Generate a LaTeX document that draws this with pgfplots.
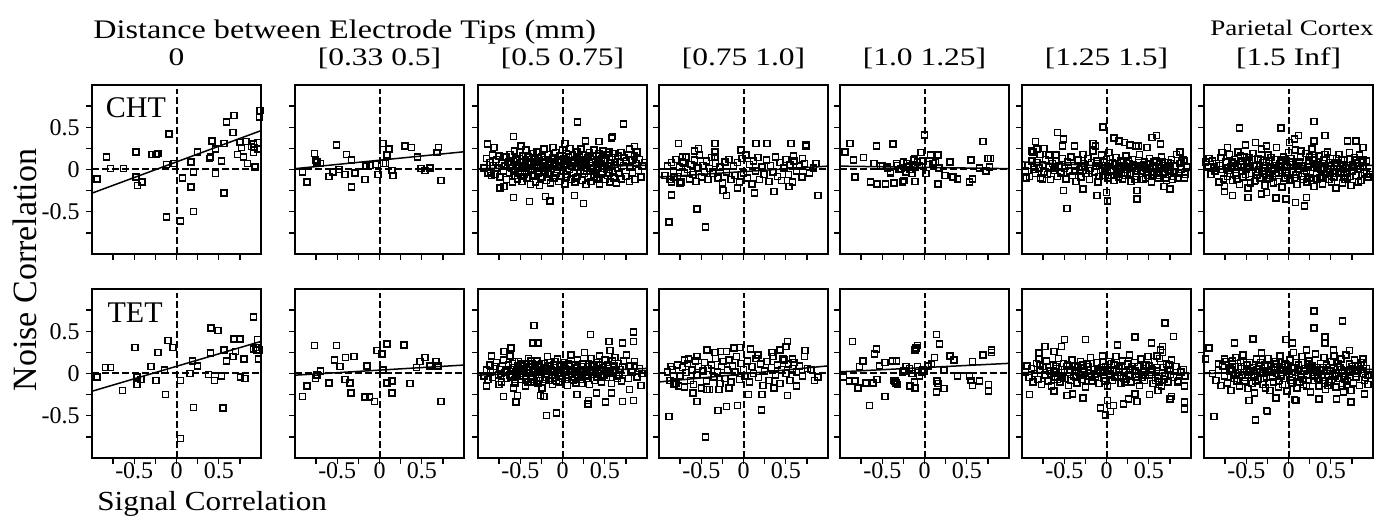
\documentclass[border=0pt]{standalone}
\usepackage{fontspec}
\setmainfont{Liberation Serif}
\usepackage{graphicx}
\usepackage{pgfplots}
\pgfplotsset{compat=1.18}

\pgfplotsset{
  panel/.style={
    scale only axis, width=84.5pt, height=84.5pt,
    xmin=-1, xmax=1, ymin=-1, ymax=1,
    axis line style={line width=0.85pt},
    xtick={-0.75,-0.5,-0.25,0,0.25,0.5,0.75},
    ytick={-0.75,-0.5,-0.25,0,0.25,0.5,0.75},
    xticklabels={}, yticklabels={},
    tick align=outside, tick pos=left,
    major tick length=3pt,
    every tick/.style={black, line width=0.7pt},
    tick label style={font=\fontsize{12}{14}\selectfont},
    xticklabel style={anchor=base, yshift=-7.5pt},
    yticklabel style={anchor=east, inner sep=0pt, xshift=-3pt},
    every axis title/.style={at={(0.5,1)}, anchor=base, yshift=9.5pt,
      font=\fontsize{12.6}{15}\selectfont},
    anchor=north west,
  },
  xlab/.style={xticklabels={,-0.5,,0,,0.5,}},
  ylab/.style={yticklabels={,-0.5,,0,,0.5,}},
  sc/.style={only marks, mark=square, mark size=1.5pt,
    mark options={black, line width=0.75pt}},
  reg/.style={black, line width=0.75pt, no marks},
  zl/.style={black, line width=1pt, dash pattern=on 3.3pt off 1.7pt, no marks},
}
\newcommand{\zerolines}{%
  \addplot[zl] coordinates {(-1,0) (1,0)};
  \addplot[zl] coordinates {(0,-1) (0,0.95)};}
\newcommand{\wide}[1]{\scalebox{1.25}[1]{#1}}

\begin{document}
\begin{tikzpicture}
\path[use as bounding box] (0pt,0pt) rectangle (688.5pt,-259pt);

\node[anchor=base west, inner sep=0pt, font=\fontsize{13.4}{16}\selectfont]
  at (46.5pt,-19.25pt) {\scalebox{1.2}[1]{Distance between Electrode Tips (mm)}};
\node[anchor=base east, inner sep=0pt, font=\fontsize{11.1}{13}\selectfont]
  at (687pt,-17.9pt) {\scalebox{1.22}[1]{Parietal Cortex}};
\node[anchor=base, inner sep=0pt, rotate=90, font=\fontsize{17}{20}\selectfont]
  at (18pt,-135pt) {Noise Correlation};
\node[anchor=base west, inner sep=0pt, font=\fontsize{13.8}{16}\selectfont]
  at (48.5pt,-255pt) {\scalebox{1.13}[1]{Signal Correlation}};

% ---------------- row 1 : CHT ----------------
\begin{axis}[panel, ylab, at={(46pt,-42.5pt)}, title={\wide{0}}]
\zerolines
\addplot[sc] coordinates {
(-0.94,-0.11) (-0.83,0.15) (-0.78,0.01) (-0.63,0.01) (-0.48,0.21) (-0.48,-0.09)
(-0.46,-0.19) (-0.41,-0.15) (-0.29,0.18) (-0.22,0.19) (-0.24,0.18) (-0.12,0.06)
(-0.09,0.42) (-0.12,-0.56) (-0.03,0.07) (0.05,-0.61) (0.07,-0.10) (0.17,0.09)
(0.17,-0.21) (0.20,-0.03) (0.20,-0.50) (0.25,0.21) (0.42,0.34) (0.40,0.15)
(0.39,0.13) (0.46,0.24) (0.46,-0.05) (0.53,0.10) (0.56,0.31) (0.56,-0.28)
(0.59,0.56) (0.68,0.64) (0.67,0.44) (0.72,0.18) (0.75,0.32) (0.77,0.26)
(0.79,0.15) (0.82,0.33) (0.84,0.07) (0.89,0.27) (0.91,0.20) (0.91,0.30)
(0.93,0.03) (0.96,0.32) (0.98,0.62) (0.99,0.70) (0.96,0.24) (0.92,0.26)};
\addplot[reg] coordinates {(-1,-0.28) (1,0.46)};
\node[anchor=base west, inner sep=0pt, font=\fontsize{15}{18}\selectfont]
  at (axis cs:-0.84,0.61) {CHT};
\end{axis}

\begin{axis}[panel, at={(147.5pt,-42.5pt)}, title={\wide{[0.33 0.5]}}]
\zerolines
\addplot[sc] coordinates {
(-0.91,-0.03) (-0.86,-0.15) (-0.77,0.19) (-0.76,0.11) (-0.74,0.09) (-0.70,0.07)
(-0.60,-0.08) (-0.55,-0.03) (-0.51,0.29) (-0.48,0.00) (-0.41,-0.06) (-0.39,0.18)
(-0.33,0.11) (-0.33,-0.21) (-0.29,-0.04) (-0.17,-0.12) (-0.16,0.04) (-0.11,0.05)
(-0.05,0.06) (-0.02,-0.06) (0.04,0.31) (0.05,0.07) (0.07,0.07) (0.09,0.17)
(0.11,0.24) (0.15,-0.01) (0.16,-0.07) (0.30,0.28) (0.38,0.26) (0.45,0.15)
(0.49,0.01) (0.54,-0.01) (0.60,0.02) (0.68,0.20) (0.70,0.26) (0.73,-0.13)};
\addplot[reg] coordinates {(-1,0.01) (1,0.21)};
\end{axis}

\begin{axis}[panel, at={(239pt,-42.5pt)}, title={\wide{[0.5 0.75]}}]
\zerolines
\addplot[sc] coordinates {
(0.18,0.56) (0.72,0.54) (-0.58,0.39) (-0.89,0.30) (-0.81,0.26) (-0.49,0.28)
(0.59,0.39) (0.58,0.37) (0.27,0.34) (0.43,0.33) (0.03,0.31) (0.85,0.27)
(0.79,0.24) (-0.58,-0.33) (-0.39,-0.38) (-0.20,-0.32) (-0.15,-0.37) (0.14,-0.31)
(0.25,-0.40) (-0.74,-0.22) (-0.69,-0.20) (-0.85,-0.05) (-0.84,-0.07)
(-0.93,0.02) (-0.9,0.13) (-0.88,-0.04) (-0.86,0.08) (-0.85,-0.03) (-0.83,0.17)
(-0.82,0.05) (-0.8,-0.06) (-0.78,0.12) (-0.77,0.02) (-0.75,0.16) (-0.74,-0.09)
(-0.72,0.07) (-0.7,0.14) (-0.7,-0.02) (-0.68,0.04) (-0.67,0.15) (-0.66,-0.12)
(-0.64,0.09) (-0.63,-0.04) (-0.62,0.18) (-0.6,0.01) (-0.59,-0.15) (-0.58,0.1)
(-0.57,0.22) (-0.56,-0.07) (-0.55,0.05) (-0.54,0.13) (-0.53,-0.11) (-0.52,0.02)
(-0.51,0.2) (-0.5,-0.03) (-0.49,0.08) (-0.48,-0.14) (-0.47,0.16) (-0.46,0.03)
(-0.45,-0.06) (-0.44,0.11) (-0.43,0.23) (-0.42,-0.1) (-0.41,0.06) (-0.4,-0.02)
(-0.39,0.14) (-0.38,-0.18) (-0.37,0.09) (-0.36,0.01) (-0.35,0.19) (-0.34,-0.08)
(-0.33,0.12) (-0.32,-0.15) (-0.31,0.04) (-0.3,0.21) (-0.29,-0.05) (-0.28,0.1)
(-0.27,-0.19) (-0.26,0.02) (-0.25,0.15) (-0.24,-0.09) (-0.23,0.07) (-0.22,0.24)
(-0.21,-0.02) (-0.2,0.12) (-0.19,-0.13) (-0.18,0.05) (-0.17,0.18) (-0.16,-0.06)
(-0.15,0.09) (-0.14,-0.16) (-0.13,0.01) (-0.12,0.14) (-0.11,0.26) (-0.1,-0.1)
(-0.09,0.06) (-0.08,0.2) (-0.07,-0.04) (-0.06,0.11) (-0.05,-0.14) (-0.04,0.03)
(-0.03,0.16) (-0.02,-0.08) (-0.01,0.08) (0.0,0.23) (0.01,-0.02) (0.02,0.13)
(0.03,-0.17) (0.04,0.05) (0.05,0.19) (0.06,-0.06) (0.07,0.1) (0.08,0.0)
(0.09,0.25) (0.1,-0.12) (0.11,0.07) (0.12,0.17) (0.13,-0.04) (0.14,0.12)
(0.15,-0.15) (0.16,0.03) (0.17,0.21) (0.18,-0.08) (0.19,0.09) (0.2,0.15)
(0.21,-0.01) (0.22,0.24) (0.23,-0.13) (0.24,0.06) (0.25,0.18) (0.26,-0.05)
(0.27,0.11) (0.28,-0.18) (0.29,0.02) (0.3,0.14) (0.31,-0.09) (0.32,0.2)
(0.33,0.05) (0.34,-0.14) (0.35,0.12) (0.36,0.0) (0.37,0.23) (0.38,-0.06)
(0.39,0.09) (0.4,0.16) (0.41,-0.11) (0.42,0.03) (0.43,0.19) (0.44,-0.17)
(0.45,0.07) (0.46,0.13) (0.47,-0.03) (0.48,0.22) (0.49,0.01) (0.5,-0.12)
(0.51,0.1) (0.52,0.17) (0.53,-0.07) (0.54,0.04) (0.55,0.21) (0.56,-0.15)
(0.57,0.08) (0.58,0.14) (0.59,-0.02) (0.6,0.19) (0.61,-0.1) (0.62,0.06)
(0.63,0.12) (0.64,-0.16) (0.65,0.02) (0.66,0.16) (0.67,-0.05) (0.68,0.09)
(0.69,0.2) (0.7,-0.11) (0.72,0.05) (0.73,0.14) (0.75,-0.08) (0.76,0.1)
(0.78,0.18) (0.79,-0.14) (0.8,0.03) (0.82,0.11) (0.83,-0.04) (0.85,0.16)
(0.86,-0.12) (0.87,0.07) (0.88,0.21) (0.9,-0.01) (0.91,0.12) (0.93,-0.09)
(0.95,0.04) (0.97,0.08)
(-0.62,0.06) (-0.58,-0.02) (-0.55,0.11) (-0.51,0.04) (-0.47,-0.08) (-0.44,0.07)
(-0.41,0.15) (-0.38,0.0) (-0.35,-0.06) (-0.32,0.08) (-0.29,0.13) (-0.26,-0.1)
(-0.23,0.03) (-0.2,0.09) (-0.17,-0.04) (-0.14,0.07) (-0.11,0.12) (-0.08,-0.07)
(-0.05,0.05) (-0.02,0.1) (0.01,0.03) (0.04,-0.09) (0.07,0.15) (0.1,0.05)
(0.13,0.08) (0.16,-0.1) (0.19,0.03) (0.22,0.11) (0.25,-0.02) (0.28,0.06)
(0.31,0.16) (0.34,0.02) (0.37,-0.09) (0.4,0.06) (0.43,0.1) (0.46,-0.06)
(0.49,0.12) (0.52,0.0) (0.55,-0.04) (0.58,0.05)};
\addplot[reg] coordinates {(-1,0.01) (1,0.05)};
\end{axis}

\begin{axis}[panel, at={(329.5pt,-42.5pt)}, title={\wide{[0.75 1.0]}}]
\zerolines
\addplot[sc] coordinates {
(-0.77,0.31) (-0.58,0.22) (-0.53,0.25) (-0.34,0.31) (-0.34,0.21) (-0.34,0.15)
(-0.03,0.23) (0.15,0.31) (0.28,0.31) (0.56,0.31) (0.74,0.29) (0.74,0.28)
(0.59,0.16) (0.70,0.13) (0.86,0.07) (-0.85,-0.30) (-0.88,-0.62) (-0.55,-0.47)
(-0.45,-0.68) (-0.24,-0.25) (-0.20,-0.31) (-0.07,-0.22) (0.13,-0.28) (0.36,-0.26)
(0.54,-0.20) (0.88,-0.31) (-0.82,-0.09) (-0.75,-0.16) (-0.85,-0.15) (-0.72,0.15)
(-0.71,0.07)
(-0.93,-0.07) (-0.9,0.04) (-0.87,-0.12) (-0.85,0.08) (-0.83,-0.02) (-0.8,0.12)
(-0.78,-0.08) (-0.76,0.03) (-0.74,-0.15) (-0.72,0.09) (-0.7,-0.04) (-0.68,0.15)
(-0.66,0.0) (-0.64,-0.11) (-0.62,0.06) (-0.6,-0.06) (-0.58,0.11) (-0.56,-0.14)
(-0.54,0.02) (-0.52,0.17) (-0.5,-0.09) (-0.48,0.05) (-0.46,-0.03) (-0.44,0.1)
(-0.42,-0.12) (-0.4,0.01) (-0.38,0.14) (-0.36,-0.05) (-0.33,0.07) (-0.3,-0.1)
(-0.28,0.03) (-0.25,-0.16) (-0.22,0.09) (-0.2,-0.03) (-0.17,0.12) (-0.15,-0.12)
(-0.12,0.04) (-0.1,-0.07) (-0.07,0.08) (-0.05,-0.15) (-0.02,0.13) (0.0,-0.04)
(0.03,0.17) (0.05,-0.1) (0.07,0.06) (0.1,-0.17) (0.12,0.1) (0.14,-0.02)
(0.17,0.14) (0.19,-0.12) (0.22,0.03) (0.24,-0.06) (0.27,0.11) (0.3,-0.14)
(0.32,0.05) (0.35,-0.03) (0.38,0.15) (0.4,-0.08) (0.43,0.08) (0.45,-0.13)
(0.48,0.02) (0.5,0.12) (0.53,-0.06) (0.55,0.06) (0.58,-0.15) (0.6,0.1)
(0.63,-0.02) (0.66,0.04) (0.69,-0.09) (0.72,0.07) (0.78,-0.04) (0.83,0.02)};
\addplot[reg] coordinates {(-1,-0.09) (1,0.04)};
\end{axis}

\begin{axis}[panel, at={(420pt,-42.5pt)}, title={\wide{[1.0 1.25]}}]
\zerolines
\addplot[sc] coordinates {
(-0.94,0.21) (-0.88,0.31) (-0.84,0.11) (-0.82,-0.09) (-0.72,0.14) (-0.64,-0.15)
(-0.57,0.28) (-0.56,-0.17) (-0.46,-0.17) (-0.37,0.30) (-0.36,-0.16) (-0.26,-0.15)
(-0.22,-0.03) (-0.6,0.07) (-0.52,0.04) (-0.44,0.03) (-0.40,-0.05) (-0.32,0.05)
(-0.28,0.01) (-0.21,0.07) (-0.17,0.0) (-0.13,0.11) (-0.11,0.03)
(-0.25,0.09) (-0.2,0.03) (-0.24,-0.13) (-0.11,-0.14) (-0.12,0.13) (-0.08,0.09)
(-0.04,0.20) (-0.06,0.05) (0.0,0.41) (0.02,-0.05) (0.07,0.17) (0.10,0.07)
(0.16,0.17) (0.13,0.09) (0.16,-0.17) (0.17,0.02) (0.24,-0.07) (0.30,0.09)
(0.34,-0.09) (0.39,-0.11) (0.53,-0.15) (0.57,-0.11) (0.55,0.11) (0.69,0.33)
(0.65,0.02) (0.73,-0.02) (0.75,0.13) (0.78,0.13) (0.77,0.03)
(-0.5,0.05) (-0.44,0.02) (-0.4,-0.03) (-0.33,0.07) (-0.3,0.0) (-0.18,0.04)
(-0.15,-0.05) (-0.02,0.1) (0.04,0.06)};
\addplot[reg] coordinates {(-1,0.04) (1,0.01)};
\end{axis}

\begin{axis}[panel, at={(511pt,-42.5pt)}, title={\wide{[1.25 1.5]}}]
\zerolines
\addplot[sc] coordinates {
(-0.95,-0.10) (-0.89,0.22) (-0.84,0.33) (-0.87,0.21) (-0.82,0.24) (-0.79,0.18)
(-0.74,0.25) (-0.76,-0.11) (-0.68,0.17) (-0.60,0.17) (-0.58,0.44) (-0.51,0.36)
(-0.52,0.28) (-0.38,0.28) (-0.51,-0.25) (-0.47,-0.46) (-0.28,-0.23) (-0.16,0.31)
(-0.13,0.28) (-0.04,0.50) (-0.11,-0.31) (0.0,-0.27) (0.01,-0.37) (0.09,0.37)
(0.15,0.34) (0.21,0.32) (0.28,0.29) (0.35,0.28) (0.38,0.28) (0.48,0.26)
(0.54,0.38) (0.59,0.40) (0.64,0.30) (0.36,-0.25) (0.36,-0.35) (0.68,-0.20)
(0.75,-0.23) (0.84,-0.10) (0.92,-0.10) (0.87,0.21) (0.92,0.10) (0.89,0.09)
(-0.96,-0.02) (-0.93,0.05) (-0.91,-0.08) (-0.88,0.1) (-0.86,0.0) (-0.84,-0.05)
(-0.82,0.08) (-0.8,0.02) (-0.78,-0.1) (-0.76,0.06) (-0.74,-0.03) (-0.72,0.12)
(-0.7,-0.06) (-0.68,0.03) (-0.66,-0.12) (-0.64,0.07) (-0.62,-0.01) (-0.6,0.1)
(-0.58,-0.08) (-0.56,0.04) (-0.54,-0.04) (-0.52,0.13) (-0.5,0.01) (-0.48,-0.11)
(-0.46,0.09) (-0.44,-0.02) (-0.42,0.15) (-0.4,-0.07) (-0.38,0.05) (-0.36,-0.14)
(-0.34,0.11) (-0.32,0.0) (-0.3,-0.09) (-0.28,0.18) (-0.26,0.04) (-0.24,-0.05)
(-0.22,0.13) (-0.2,-0.12) (-0.18,0.08) (-0.16,0.22) (-0.14,-0.03) (-0.12,0.1)
(-0.1,-0.15) (-0.08,0.05) (-0.06,0.17) (-0.04,-0.07) (-0.02,0.02) (0.0,0.12)
(0.02,-0.1) (0.03,0.2) (0.05,-0.02) (0.07,0.08) (0.09,-0.13) (0.11,0.14)
(0.13,0.0) (0.15,-0.06) (0.17,0.1) (0.19,-0.11) (0.21,0.04) (0.23,0.16)
(0.25,-0.04) (0.27,0.07) (0.29,-0.14) (0.31,0.12) (0.33,0.01) (0.35,-0.08)
(0.37,0.05) (0.39,0.18) (0.41,-0.02) (0.43,-0.12) (0.45,0.09) (0.47,0.02)
(0.49,-0.07) (0.51,0.13) (0.53,-0.15) (0.55,0.04) (0.57,-0.03) (0.59,0.1)
(0.61,-0.1) (0.63,0.06) (0.65,0.15) (0.67,-0.05) (0.69,0.01) (0.71,-0.13)
(0.73,0.08) (0.75,-0.02) (0.77,0.12) (0.79,-0.08) (0.81,0.04) (0.83,0.18)
(0.85,-0.04) (0.87,0.07) (0.89,0.0) (0.91,0.11) (0.93,-0.06) (0.95,0.03)
(-0.27,0.07) (-0.21,-0.01) (-0.13,0.04) (-0.09,-0.08) (-0.03,0.09) (0.01,0.03)
(0.06,-0.07) (0.1,0.06) (0.14,-0.09) (0.18,0.02) (0.22,-0.07) (0.26,0.1)
(0.3,0.03) (0.34,-0.12) (0.38,0.08) (0.42,0.05) (0.46,-0.1) (0.5,0.07)
(0.54,-0.06) (0.58,0.02) (0.62,-0.07) (0.66,0.09) (0.7,-0.1) (0.74,0.03)
(0.78,-0.12)
(-0.61,0.02) (-0.53,-0.03) (-0.45,0.05) (-0.37,-0.02) (-0.29,0.03) (-0.19,0.01)
(-0.11,0.07) (-0.05,-0.02) (0.04,0.07) (0.08,0.0) (0.12,-0.04) (0.16,0.05)
(0.2,0.09) (0.24,0.0) (0.28,-0.06) (0.32,0.06) (0.36,-0.02) (0.4,0.03)
(0.44,0.06) (0.48,-0.03) (0.52,0.02) (0.56,0.09) (0.6,-0.04) (0.64,0.01)
(0.68,0.05) (0.72,0.0) (0.76,0.07) (0.8,-0.03)};
\addplot[reg] coordinates {(-1,0.09) (1,-0.01)};
\end{axis}

\begin{axis}[panel, at={(602pt,-42.5pt)}, title={\wide{[1.5 Inf]}}]
\zerolines
\addplot[sc] coordinates {
(-0.98,0.09) (-0.94,0.13) (-0.88,0.02) (-0.79,0.20) (-0.72,0.26) (-0.58,0.49)
(-0.51,0.29) (-0.39,0.32) (-0.26,0.28) (-0.09,0.49) (0.01,0.32) (0.07,0.36)
(0.12,0.40) (0.30,0.57) (0.30,0.34) (0.43,0.40) (0.70,0.34) (0.80,0.34)
(0.88,0.26) (0.88,0.11) (-0.76,-0.26) (-0.66,-0.31) (-0.48,-0.33) (-0.32,-0.29)
(-0.26,-0.27) (-0.15,-0.34) (-0.03,-0.35) (0.08,-0.39) (0.19,-0.43) (0.21,-0.33)
(0.92,-0.05) (0.96,-0.06)
(-0.95,0.03) (-0.92,-0.06) (-0.9,0.1) (-0.87,-0.02) (-0.85,0.07) (-0.82,-0.15)
(-0.8,0.14) (-0.78,0.0) (-0.76,-0.2) (-0.74,0.09) (-0.72,-0.08) (-0.7,0.18)
(-0.68,0.03) (-0.66,-0.13) (-0.64,0.12) (-0.62,-0.04) (-0.6,0.21) (-0.58,-0.18)
(-0.56,0.06) (-0.54,-0.09) (-0.52,0.15) (-0.5,0.0) (-0.48,-0.22) (-0.46,0.1)
(-0.44,-0.05) (-0.42,0.19) (-0.4,-0.14) (-0.38,0.04) (-0.36,0.13) (-0.34,-0.1)
(-0.32,0.24) (-0.3,-0.02) (-0.28,-0.19) (-0.26,0.08) (-0.24,0.17) (-0.22,-0.07)
(-0.2,0.02) (-0.18,-0.16) (-0.16,0.12) (-0.14,0.26) (-0.12,-0.04) (-0.1,0.07)
(-0.08,-0.21) (-0.06,0.15) (-0.04,-0.1) (-0.02,0.03) (0.0,0.2) (0.02,-0.13)
(0.04,0.09) (0.06,-0.03) (0.08,0.23) (0.1,-0.18) (0.12,0.05) (0.14,0.14)
(0.16,-0.08) (0.18,0.01) (0.2,0.19) (0.22,-0.15) (0.24,0.1) (0.26,-0.05)
(0.28,0.24) (0.3,-0.2) (0.32,0.06) (0.34,-0.11) (0.36,0.16) (0.38,0.0)
(0.4,-0.17) (0.42,0.11) (0.44,-0.06) (0.46,0.21) (0.48,-0.12) (0.5,0.04)
(0.52,0.13) (0.54,-0.09) (0.56,-0.22) (0.58,0.08) (0.6,0.18) (0.62,-0.03)
(0.64,-0.16) (0.66,0.11) (0.68,0.02) (0.7,-0.1) (0.72,0.2) (0.74,-0.19)
(0.76,0.06) (0.78,0.14) (0.8,-0.07) (0.82,0.01) (0.84,0.17) (0.86,-0.13)
(0.88,0.05) (0.9,-0.04) (0.92,0.1) (0.94,-0.09)
(-0.81,0.05) (-0.77,-0.11) (-0.73,0.02) (-0.69,-0.05) (-0.65,0.07) (-0.61,-0.12)
(-0.57,0.16) (-0.53,0.03) (-0.49,0.09) (-0.45,-0.16) (-0.41,0.05) (-0.37,-0.07)
(-0.33,0.11) (-0.29,0.02) (-0.25,-0.12) (-0.21,0.14) (-0.17,0.0) (-0.13,-0.14)
(-0.09,0.1) (-0.05,0.04) (-0.01,-0.07) (0.03,0.13) (0.07,-0.1) (0.11,0.0)
(0.15,0.22) (0.19,-0.05) (0.23,0.03) (0.27,-0.13) (0.31,0.14) (0.35,0.02)
(0.39,-0.08) (0.43,0.18) (0.47,0.0) (0.51,-0.15) (0.55,0.07) (0.59,-0.05)
(0.63,0.12) (0.67,-0.12) (0.71,0.05) (0.75,-0.02) (0.79,0.11) (0.83,-0.15)
(0.87,0.09)
(-0.55,-0.02) (-0.47,0.14) (-0.39,-0.03) (-0.31,0.08) (-0.23,-0.1) (-0.15,0.05)
(-0.07,-0.01) (0.01,0.08) (0.09,0.04) (0.17,-0.12) (0.25,0.15) (0.33,-0.04)
(0.41,0.07) (0.49,-0.03) (0.57,0.04) (0.65,-0.07) (0.73,0.12)
(-0.71,-0.01) (-0.67,0.09) (-0.63,-0.07) (-0.59,0.03) (-0.55,0.1) (-0.51,-0.06)
(-0.47,0.03) (-0.43,0.12) (-0.39,-0.13) (-0.35,0.0) (-0.31,-0.05) (-0.27,0.05)
(-0.23,0.1) (-0.19,-0.09) (-0.15,-0.05) (-0.11,0.03) (-0.07,0.11) (-0.03,-0.04)
(0.01,-0.12) (0.05,0.06) (0.09,-0.06) (0.13,0.09) (0.17,0.04) (0.21,-0.02)
(0.25,-0.1) (0.29,0.11) (0.33,0.04) (0.37,-0.1) (0.41,0.02) (0.45,-0.03)
(0.49,0.08) (0.53,-0.05) (0.57,0.13) (0.61,0.01) (0.65,0.06) (0.69,-0.04)
(0.73,-0.08) (0.77,0.03) (0.81,0.08) (0.85,0.0)};
\addplot[reg] coordinates {(-1,0) (1,0.05)};
\end{axis}

% ---------------- row 2 : TET ----------------
\begin{axis}[panel, xlab, ylab, at={(46pt,-144.5pt)}]
\zerolines
\addplot[sc] coordinates {
(-0.94,-0.04) (-0.84,0.07) (-0.78,0.07) (-0.64,-0.20) (-0.49,0.31) (-0.47,-0.13)
(-0.47,-0.04) (-0.42,-0.07) (-0.30,0.08) (-0.24,-0.08) (-0.22,0.25) (-0.13,-0.25)
(-0.14,0.04) (-0.10,0.39) (-0.04,0.31) (0.05,-0.08) (0.05,-0.77) (0.16,0.00)
(0.19,0.15) (0.25,0.09) (0.20,-0.40) (0.38,-0.01) (0.40,0.24) (0.41,0.54)
(0.49,0.51) (0.45,-0.08) (0.53,-0.03) (0.55,-0.41) (0.56,0.28) (0.59,0.15)
(0.67,0.20) (0.68,0.41) (0.70,0.26) (0.75,0.41) (0.76,-0.04) (0.80,0.17)
(0.81,-0.06) (0.91,0.67) (0.91,0.29) (0.94,0.31) (0.96,0.40) (0.97,0.17)
(0.98,0.28) (0.95,0.28)};
\addplot[reg] coordinates {(-1,-0.21) (1,0.38)};
\node[anchor=base west, inner sep=0pt, font=\fontsize{15}{18}\selectfont]
  at (axis cs:-0.82,0.60) {TET};
\end{axis}

\begin{axis}[panel, xlab, at={(147.5pt,-144.5pt)}]
\zerolines
\addplot[sc] coordinates {
(-0.91,-0.27) (-0.86,-0.15) (-0.77,0.33) (-0.76,-0.06) (-0.74,-0.02) (-0.70,0.03)
(-0.60,-0.11) (-0.53,0.16) (-0.51,0.33) (-0.47,0.08) (-0.40,0.19) (-0.41,-0.07)
(-0.35,-0.11) (-0.34,-0.23) (-0.30,0.20) (-0.17,-0.28) (-0.15,0.09) (-0.12,-0.28)
(-0.06,-0.33) (-0.03,0.27) (0.03,0.23) (0.04,0.05) (0.05,0.04) (0.09,0.35)
(0.09,-0.11) (0.15,-0.09) (0.15,-0.23) (0.29,0.34) (0.36,-0.12) (0.44,0.07)
(0.48,0.14) (0.54,0.19) (0.60,0.09) (0.67,0.14) (0.69,0.09) (0.73,-0.33)};
\addplot[reg] coordinates {(-1,-0.02) (1,0.10)};
\end{axis}

\begin{axis}[panel, xlab, at={(239pt,-144.5pt)}]
\zerolines
\addplot[sc] coordinates {
(-0.34,0.57) (0.33,0.46) (0.84,0.49) (0.84,0.38) (0.71,0.36) (0.55,0.38)
(-0.35,0.36) (-0.29,0.36) (-0.61,0.30) (-0.69,0.26) (-0.84,0.21) (-0.86,0.10)
(-0.90,-0.15) (-0.75,-0.13) (-0.58,-0.17) (-0.70,-0.27) (-0.53,-0.26) (-0.55,-0.34)
(-0.19,-0.50) (-0.07,-0.47) (0.17,-0.25) (0.30,-0.36) (0.31,-0.32) (0.40,-0.23)
(0.51,-0.34) (0.58,-0.23) (0.71,-0.33) (0.84,-0.32) (0.79,-0.19) (0.93,-0.14)
(0.85,0.09) (-0.26,-0.26) (-0.22,-0.27)
(-0.93,-0.03) (-0.9,0.04) (-0.88,-0.07) (-0.85,0.02) (-0.83,-0.05) (-0.8,0.08)
(-0.78,0.13) (-0.76,-0.02) (-0.74,0.05) (-0.72,-0.1) (-0.7,0.16) (-0.68,0.01)
(-0.66,-0.06) (-0.64,0.1) (-0.62,0.21) (-0.6,-0.03) (-0.58,0.07) (-0.56,-0.12)
(-0.54,0.03) (-0.52,0.14) (-0.5,-0.07) (-0.48,0.09) (-0.46,0.0) (-0.44,-0.15)
(-0.42,0.05) (-0.4,0.18) (-0.38,-0.04) (-0.36,0.11) (-0.34,-0.1) (-0.32,0.02)
(-0.3,0.15) (-0.28,-0.06) (-0.26,0.07) (-0.24,-0.17) (-0.22,0.12) (-0.2,0.0)
(-0.18,0.2) (-0.16,-0.08) (-0.14,0.06) (-0.12,-0.13) (-0.1,0.1) (-0.08,-0.02)
(-0.06,0.17) (-0.04,-0.1) (-0.02,0.04) (0.0,-0.06) (0.02,0.13) (0.04,0.01)
(0.06,-0.14) (0.08,0.09) (0.1,0.22) (0.12,-0.04) (0.14,0.06) (0.16,-0.11)
(0.18,0.16) (0.2,0.02) (0.22,-0.07) (0.24,0.11) (0.26,0.25) (0.28,-0.02)
(0.3,0.08) (0.32,-0.13) (0.34,0.18) (0.36,0.04) (0.38,-0.08) (0.4,0.13)
(0.42,0.0) (0.44,0.21) (0.46,-0.1) (0.48,0.07) (0.5,0.16) (0.52,-0.05)
(0.54,0.1) (0.56,0.27) (0.58,-0.12) (0.6,0.03) (0.62,0.19) (0.64,-0.03)
(0.66,0.12) (0.68,0.05) (0.7,-0.09) (0.72,0.15) (0.74,0.01) (0.76,0.22)
(0.78,-0.06) (0.8,0.09) (0.82,0.02) (0.85,0.14) (0.88,-0.04) (0.91,0.06)
(0.94,0.0)
(-0.73,0.0) (-0.67,0.05) (-0.63,-0.02) (-0.59,0.12) (-0.55,0.02) (-0.51,-0.03)
(-0.47,0.06) (-0.43,-0.06) (-0.39,0.08) (-0.35,0.02) (-0.31,-0.08) (-0.27,0.1)
(-0.23,0.03) (-0.19,-0.05) (-0.15,0.13) (-0.11,0.01) (-0.07,-0.09) (-0.03,0.08)
(0.01,0.02) (0.05,-0.05) (0.09,0.04) (0.13,-0.08) (0.17,0.07) (0.21,-0.03)
(0.25,0.05) (0.29,-0.06) (0.33,0.03) (0.37,0.1) (0.41,-0.04) (0.45,0.04)
(0.49,-0.02) (0.53,0.06) (0.57,0.01) (0.61,0.09) (0.65,-0.06)
(-0.57,-0.07) (-0.49,0.11) (-0.41,-0.1) (-0.33,0.06) (-0.25,-0.01) (-0.17,0.04)
(-0.09,-0.05) (-0.01,0.1) (0.07,-0.02) (0.15,0.01) (0.23,-0.12) (0.31,0.12)
(-0.53,0.09) (-0.45,0.03) (-0.37,0.15) (-0.29,-0.12) (-0.21,0.07) (-0.13,-0.02)
(-0.65,0.03) (-0.61,-0.05) (-0.57,0.14) (-0.53,-0.02) (-0.49,0.04) (-0.45,0.12)
(-0.41,0.0) (-0.37,-0.07) (-0.33,0.1) (-0.29,0.04) (-0.25,0.12) (-0.21,-0.07)
(-0.17,0.09) (-0.13,0.05) (-0.09,0.14) (-0.05,0.0) (-0.01,-0.03) (0.03,0.06)
(0.07,0.11) (0.11,-0.07) (0.15,0.1) (0.19,-0.01) (0.23,0.08) (0.27,0.02)
(0.31,-0.03) (0.35,0.09) (0.39,0.02) (0.43,0.1) (0.47,-0.05) (0.51,0.03)
(0.55,0.0) (0.59,0.15) (0.63,0.05) (0.67,-0.02) (0.71,0.08)};
\addplot[reg] coordinates {(-1,-0.02) (1,0.06)};
\end{axis}

\begin{axis}[panel, xlab, at={(329.5pt,-144.5pt)}]
\zerolines
\addplot[sc] coordinates {
(-0.88,-0.51) (-0.45,-0.75) (-0.30,-0.44) (-0.20,-0.39) (-0.07,-0.38) (0.21,-0.43)
(-0.55,-0.33) (-0.86,0.08) (-0.83,-0.03) (-0.82,-0.13) (-0.77,-0.15) (-0.70,0.16)
(-0.65,0.17) (-0.55,0.20) (-0.43,0.28) (-0.34,0.25) (-0.27,0.26) (-0.20,0.26)
(-0.11,0.30) (-0.04,0.31) (0.08,0.29) (0.17,0.22) (0.34,0.25) (0.43,0.28)
(0.50,0.32) (0.52,0.38) (0.73,0.27) (0.72,0.20) (0.47,0.18) (0.58,0.17)
(0.76,0.06) (0.84,-0.08) (0.88,-0.04) (0.63,-0.15) (0.52,-0.26) (0.36,-0.17)
(0.22,-0.25) (0.06,-0.25) (-0.17,-0.17) (-0.29,-0.19) (-0.43,-0.19) (-0.60,-0.23)
(-0.9,0.02) (-0.87,-0.08) (-0.84,0.05) (-0.8,-0.12) (-0.78,0.1) (-0.75,-0.03)
(-0.72,0.07) (-0.7,-0.16) (-0.68,0.01) (-0.66,0.12) (-0.63,-0.08) (-0.61,0.04)
(-0.59,-0.13) (-0.57,0.15) (-0.55,-0.02) (-0.53,0.08) (-0.5,-0.17) (-0.48,0.03)
(-0.46,0.13) (-0.44,-0.09) (-0.42,0.06) (-0.4,-0.19) (-0.38,0.1) (-0.35,-0.04)
(-0.33,0.18) (-0.31,0.02) (-0.28,-0.12) (-0.26,0.08) (-0.24,0.14) (-0.22,-0.06)
(-0.19,0.04) (-0.17,0.16) (-0.15,-0.1) (-0.13,0.09) (-0.1,0.02) (-0.08,0.2)
(-0.05,-0.07) (-0.03,0.12) (0.0,0.05) (0.02,-0.03) (0.05,0.15) (0.07,-0.1)
(0.1,0.08) (0.12,0.0) (0.15,0.18) (0.18,-0.05) (0.2,0.11) (0.23,-0.14)
(0.25,0.03) (0.28,0.14) (0.3,-0.08) (0.33,0.07) (0.35,0.2) (0.38,-0.02)
(0.4,0.1) (0.43,-0.12) (0.45,0.05) (0.48,0.16) (0.5,0.0) (0.53,0.11)
(0.55,-0.08) (0.58,0.06) (0.6,0.13) (0.63,0.02) (0.66,0.09) (0.7,-0.03)
(0.8,0.05)};
\addplot[reg] coordinates {(-1,-0.10) (1,0.09)};
\end{axis}

\begin{axis}[panel, xlab, at={(420pt,-144.5pt)}]
\zerolines
\addplot[sc] coordinates {
(-0.85,0.38) (-0.96,-0.04) (-0.89,-0.09) (-0.82,-0.09) (-0.79,-0.17) (-0.77,0.08)
(-0.73,0.15) (-0.69,-0.11) (-0.65,-0.38) (-0.61,-0.11) (-0.59,0.23) (-0.57,0.29)
(-0.56,-0.07) (-0.53,0.09) (-0.47,-0.27) (-0.47,0.13) (-0.38,0.15) (-0.33,0.15)
(-0.35,-0.09) (-0.34,-0.11) (-0.32,-0.13) (-0.26,0.02) (-0.22,0.08) (-0.17,-0.15)
(-0.11,-0.17) (-0.11,0.28) (-0.08,0.08) (-0.24,0.03) (-0.10,0.30) (-0.08,0.33)
(-0.12,-0.10) (-0.06,-0.03) (-0.03,0.02) (0.0,0.03) (0.08,0.11) (0.12,0.19)
(0.14,0.46) (0.18,0.35) (0.15,-0.09) (0.16,-0.12) (0.14,-0.22) (0.23,-0.18)
(0.23,0.04) (0.30,0.21) (0.35,0.16) (0.39,-0.03) (0.53,-0.03) (0.55,-0.08)
(0.57,-0.14) (0.65,-0.09) (0.57,0.14) (0.69,0.22) (0.76,-0.13) (0.76,-0.21)
(0.79,0.28) (0.79,0.25) (-0.36,-0.08) (-0.33,-0.12) (-0.18,0.06) (-0.15,0.0)
(-0.02,0.05) (0.04,0.09)};
\addplot[reg] coordinates {(-1,0.02) (1,0.12)};
\end{axis}

\begin{axis}[panel, xlab, at={(511pt,-144.5pt)}]
\zerolines
\addplot[sc] coordinates {
(0.69,0.60) (0.79,0.44) (0.34,0.43) (0.53,0.36) (0.13,0.34) (-0.25,0.40)
(-0.50,0.40) (-0.53,0.32) (-0.73,0.32) (-0.62,0.26) (-0.80,0.24) (-0.80,0.18)
(-0.79,0.10) (-0.94,0.09) (-0.91,-0.25) (-0.62,-0.21) (-0.47,-0.26) (-0.40,-0.24)
(-0.28,-0.29) (-0.07,-0.41) (-0.01,-0.49) (0.05,-0.45) (0.08,-0.38) (0.01,-0.32)
(0.20,-0.36) (0.26,-0.30) (0.36,-0.33) (0.34,-0.24) (0.51,-0.25) (0.61,-0.20)
(0.75,-0.30) (0.77,-0.27) (0.92,-0.34) (0.92,-0.42) (0.92,-0.15) (0.91,0.05)
(0.84,-0.10) (0.72,0.04) (0.66,0.25) (0.60,0.21) (0.66,0.32) (0.64,0.28)
(-0.96,0.02) (-0.92,-0.05) (-0.89,0.06) (-0.87,-0.1) (-0.85,0.0) (-0.83,0.12)
(-0.81,-0.07) (-0.79,0.04) (-0.77,-0.13) (-0.75,0.08) (-0.73,-0.02) (-0.71,0.15)
(-0.69,-0.09) (-0.67,0.03) (-0.65,-0.15) (-0.63,0.1) (-0.61,-0.04) (-0.59,0.06)
(-0.57,0.18) (-0.55,-0.1) (-0.53,0.01) (-0.51,0.12) (-0.49,-0.06) (-0.47,0.08)
(-0.45,-0.14) (-0.43,0.04) (-0.41,0.16) (-0.39,-0.03) (-0.37,0.09) (-0.35,-0.11)
(-0.33,0.02) (-0.31,0.14) (-0.29,-0.07) (-0.27,0.06) (-0.25,-0.16) (-0.23,0.11)
(-0.21,0.0) (-0.19,0.19) (-0.17,-0.09) (-0.15,0.05) (-0.13,-0.04) (-0.11,0.13)
(-0.09,-0.12) (-0.07,0.03) (-0.05,0.21) (-0.03,-0.06) (-0.01,0.08) (0.01,-0.15)
(0.03,0.14) (0.05,0.0) (0.07,-0.08) (0.09,0.1) (0.11,0.2) (0.13,-0.03)
(0.15,0.06) (0.17,-0.12) (0.19,0.15) (0.21,0.02) (0.23,-0.07) (0.25,0.11)
(0.27,0.22) (0.29,-0.1) (0.31,0.04) (0.33,0.13) (0.35,-0.04) (0.37,0.08)
(0.39,-0.14) (0.41,0.17) (0.43,0.01) (0.45,-0.08) (0.47,0.1) (0.49,0.2)
(0.51,-0.02) (0.53,0.06) (0.55,-0.12) (0.57,0.14) (0.59,0.03) (0.61,-0.06)
(0.63,0.18) (0.65,-0.15) (0.67,0.07) (0.69,-0.03) (0.71,0.11) (0.73,-0.1)
(0.75,0.04) (0.77,0.16) (0.79,-0.05) (0.82,0.08) (0.85,-0.08) (0.88,0.02)
(0.93,-0.03)
(-0.62,0.02) (-0.54,-0.04) (-0.46,0.1) (-0.38,0.03) (-0.3,-0.02) (-0.22,0.08)
(-0.14,-0.01) (-0.06,0.07) (0.02,0.03) (0.1,-0.04) (0.18,0.09) (0.26,-0.02)
(0.34,0.03) (0.42,-0.05) (0.5,0.09) (0.58,-0.08) (0.66,0.01) (0.74,0.1)
(-0.58,-0.07) (-0.5,0.05) (-0.42,-0.08) (-0.34,0.07) (-0.26,0.02) (-0.18,-0.05)
(-0.1,0.04) (-0.02,-0.09) (0.06,0.12) (0.14,0.01) (0.22,-0.1) (0.3,0.08)
(0.38,0.0) (0.46,-0.02) (0.54,0.04) (0.62,-0.1)
(-0.66,0.0) (-0.6,0.08) (-0.52,-0.05) (-0.44,0.01) (-0.36,-0.04) (-0.28,0.1)
(-0.2,-0.03) (-0.12,0.0) (-0.04,0.04) (0.04,-0.02) (0.12,0.05) (0.2,-0.06)
(0.28,0.04) (0.36,-0.08) (0.44,0.06) (0.52,0.01) (0.6,0.07) (0.68,-0.07)
(0.76,-0.01)};
\addplot[reg] coordinates {(-1,0.01) (1,0.0)};
\end{axis}

\begin{axis}[panel, xlab, at={(602pt,-144.5pt)}]
\zerolines
\addplot[sc] coordinates {
(0.30,0.74) (0.30,0.54) (0.64,0.62) (0.43,0.43) (0.43,0.36) (-0.03,0.40)
(0.05,0.36) (-0.42,0.41) (-0.64,0.36) (-0.94,0.30) (-0.98,0.17) (-0.83,0.11)
(-0.76,0.17) (-0.66,0.15) (-0.88,-0.51) (-0.39,-0.55) (-0.26,-0.44) (-0.25,-0.45)
(-0.47,-0.32) (-0.15,-0.29) (0.07,-0.31) (0.09,-0.32) (0.36,-0.30) (0.57,-0.30)
(0.74,-0.34) (0.65,-0.22) (0.90,-0.24) (0.94,-0.13) (0.88,0.17) (0.72,0.27)
(0.53,0.28) (0.21,0.28)
(-0.9,0.0) (-0.86,-0.08) (-0.83,0.05) (-0.8,-0.14) (-0.78,0.09) (-0.76,-0.03)
(-0.74,0.14) (-0.72,-0.11) (-0.7,0.03) (-0.68,-0.2) (-0.66,0.11) (-0.64,-0.06)
(-0.62,0.19) (-0.6,0.01) (-0.58,-0.15) (-0.56,0.08) (-0.54,0.22) (-0.52,-0.09)
(-0.5,0.04) (-0.48,-0.18) (-0.46,0.13) (-0.44,-0.02) (-0.42,0.07) (-0.4,-0.23)
(-0.38,0.17) (-0.36,-0.07) (-0.34,0.02) (-0.32,0.24) (-0.3,-0.13) (-0.28,0.1)
(-0.26,-0.04) (-0.24,0.18) (-0.22,-0.2) (-0.2,0.05) (-0.18,-0.1) (-0.16,0.14)
(-0.14,0.0) (-0.12,-0.16) (-0.1,0.21) (-0.08,0.07) (-0.06,-0.06) (-0.04,0.12)
(-0.02,-0.21) (0.0,0.03) (0.02,0.16) (0.04,-0.11) (0.06,0.25) (0.08,0.01)
(0.1,-0.17) (0.12,0.1) (0.14,-0.04) (0.16,0.2) (0.18,-0.13) (0.2,0.06)
(0.22,-0.02) (0.24,0.15) (0.26,-0.22) (0.28,0.09) (0.3,-0.08) (0.32,0.23)
(0.34,0.02) (0.36,-0.15) (0.38,0.12) (0.4,-0.05) (0.42,0.19) (0.44,-0.19)
(0.46,0.05) (0.48,-0.1) (0.5,0.14) (0.52,-0.01) (0.54,0.21) (0.56,-0.16)
(0.58,0.08) (0.6,-0.06) (0.62,0.17) (0.64,-0.12) (0.66,0.03) (0.68,0.22)
(0.7,-0.09) (0.72,0.11) (0.74,-0.2) (0.76,0.06) (0.78,0.16) (0.8,-0.04)
(0.82,0.09) (0.84,-0.14) (0.86,0.13) (0.88,0.0) (0.9,-0.08) (0.92,0.06)
(0.94,-0.02)
(-0.67,0.05) (-0.61,-0.09) (-0.55,-0.01) (-0.49,0.1) (-0.43,-0.12) (-0.37,0.05)
(-0.31,0.0) (-0.25,0.09) (-0.19,-0.04) (-0.13,0.08) (-0.07,-0.13) (-0.01,0.08)
(0.05,-0.05) (0.11,0.04) (0.17,-0.07) (0.23,0.11) (0.29,0.01) (0.35,-0.06)
(0.41,0.07) (0.47,-0.14) (0.53,0.06) (0.59,0.12) (0.65,-0.03) (0.71,0.02)
(0.77,-0.11) (0.83,0.04) (0.89,0.1)
(-0.63,0.0) (-0.57,0.13) (-0.51,-0.05) (-0.45,0.03) (-0.39,-0.09) (-0.33,0.13)
(-0.27,-0.17) (-0.21,0.01) (-0.15,0.11) (-0.09,-0.03) (-0.03,0.05) (0.03,-0.08)
(0.09,0.13) (0.15,-0.01) (0.21,-0.15) (0.27,0.04) (0.33,0.07) (0.39,-0.02)
(0.45,0.1) (0.51,-0.07) (0.57,0.0) (0.63,0.05) (0.69,-0.13) (0.75,0.08)
(-0.69,0.06) (-0.65,-0.02) (-0.59,0.08) (-0.53,0.13) (-0.47,0.01) (-0.41,-0.04)
(-0.35,0.09) (-0.29,-0.06) (-0.23,0.03) (-0.17,0.07) (-0.11,-0.08) (-0.05,0.1)
(0.01,0.0) (0.07,0.07) (0.13,-0.1) (0.19,0.03) (0.25,0.06) (0.31,-0.03)
(0.37,0.04) (0.43,-0.08) (0.49,0.03) (0.55,-0.03) (0.61,0.07) (0.67,-0.07)
(0.73,0.04) (0.79,0.0) (0.85,0.05) (0.91,-0.05)};
\addplot[reg] coordinates {(-1,0) (1,0.05)};
\end{axis}

\end{tikzpicture}
\end{document}
